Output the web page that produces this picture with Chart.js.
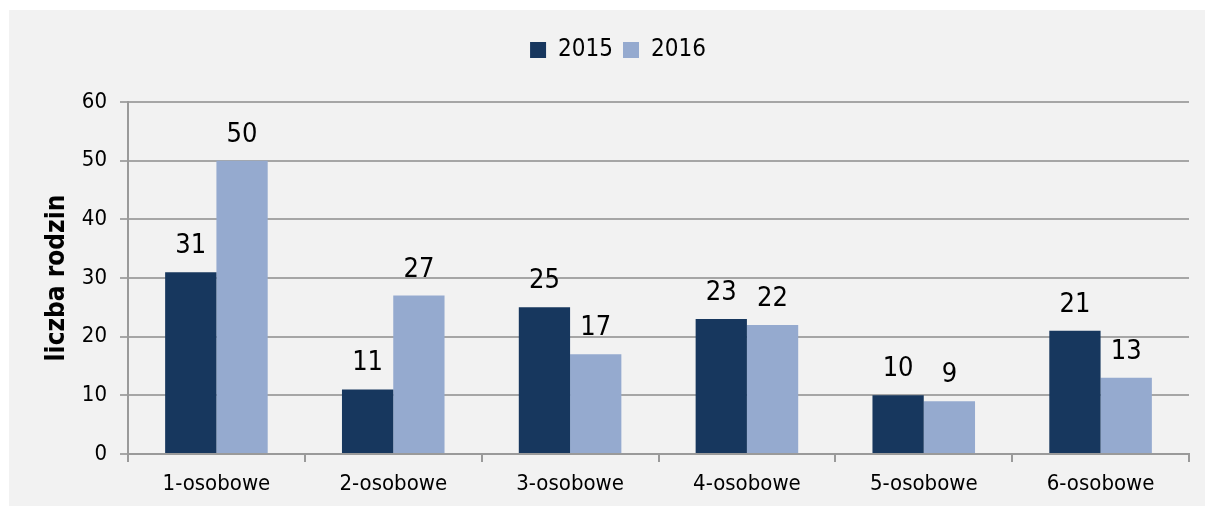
<!DOCTYPE html>
<html>
<head>
<meta charset="utf-8">
<script src="https://cdn.jsdelivr.net/npm/chart.js@4/dist/chart.umd.min.js"></script>
<style>
  html, body { margin: 0; padding: 0; background: #ffffff; }
  #wrap { position: absolute; left: 9px; top: 10px; width: 1196px; height: 496px; background: #f2f2f2; }
  canvas { display: block; }
</style>
</head>
<body>
<div id="wrap"><canvas id="c" width="1196" height="496"></canvas></div>
<script>
const categories = ['1-osobowe', '2-osobowe', '3-osobowe', '4-osobowe', '5-osobowe', '6-osobowe'];
const seriesNames = ['2015', '2016'];
const values2015 = [31, 11, 25, 23, 10, 21];
const values2016 = [50, 27, 17, 22, 9, 13];
const yTicks = [0, 10, 20, 30, 40, 50, 60];
const yAxisTitle = 'liczba rodzin';

const FONT = '"DejaVu Sans Condensed", "DejaVu Sans", sans-serif';

const valueLabels = {
  id: 'valueLabels',
  afterDatasetsDraw(chart) {
    const ctx = chart.ctx;
    ctx.save();
    ctx.font = '27px ' + FONT;
    ctx.fillStyle = '#000000';
    ctx.textAlign = 'center';
    ctx.textBaseline = 'alphabetic';
    chart.data.datasets.forEach((ds, i) => {
      const meta = chart.getDatasetMeta(i);
      meta.data.forEach((bar, j) => {
        ctx.fillText(String(ds.data[j]), bar.x, bar.y - 19);
      });
    });
    ctx.restore();
  }
};

const legendTweak = {
  id: 'legendTweak',
  beforeLayout(chart) {
    const lg = chart.legend;
    if (lg && !lg._patched) {
      const fit = lg.fit;
      lg.fit = function () { fit.call(this); this.height += 30; };
      lg._patched = true;
    }
  },
  afterLayout(chart) {
    const lg = chart.legend;
    if (lg) { lg.left += 19; lg.right += 19; }
  }
};

new Chart(document.getElementById('c'), {
  type: 'bar',
  data: {
    labels: categories,
    datasets: [
      { label: seriesNames[0], data: values2015, backgroundColor: '#17375E', borderWidth: 0 },
      { label: seriesNames[1], data: values2016, backgroundColor: '#95AACF', borderWidth: 0 }
    ]
  },
  options: {
    responsive: false,
    animation: false,
    events: [],
    layout: { padding: { top: 18, right: 16, left: 0, bottom: 0 } },
    datasets: { bar: { categoryPercentage: 0.58, barPercentage: 1.0 } },
    plugins: {
      legend: {
        position: 'top',
        align: 'center',
        labels: {
          font: { family: FONT, size: 24 },
          color: '#000000',
          boxWidth: 16,
          boxHeight: 16,
          padding: 10
        }
      },
      tooltip: { enabled: false }
    },
    scales: {
      x: {
        grid: { display: true, drawOnChartArea: false, offset: true, tickLength: 8, color: '#9a9a9a', lineWidth: 2 },
        border: { display: true, color: '#9a9a9a', width: 2 },
        ticks: { font: { family: FONT, size: 22 }, color: '#000000', padding: 9, maxRotation: 0 },
        afterFit(scale) { scale.height = 52; }
      },
      y: {
        min: 0,
        max: 60,
        afterBuildTicks(scale) { scale.ticks = yTicks.map(v => ({ value: v })); },
        grid: { color: '#a6a6a6', lineWidth: 2, tickLength: 8 },
        border: { display: true, color: '#9a9a9a', width: 2 },
        ticks: { font: { family: FONT, size: 22 }, color: '#000000', padding: 13 },
        title: { display: true, text: yAxisTitle, font: { family: FONT, size: 26, weight: 'bold' }, color: '#000000', padding: { top: 33, bottom: 0 } },
        afterFit(scale) { scale.width = 119; }
      }
    }
  },
  plugins: [legendTweak, valueLabels]
});
</script>
</body>
</html>
